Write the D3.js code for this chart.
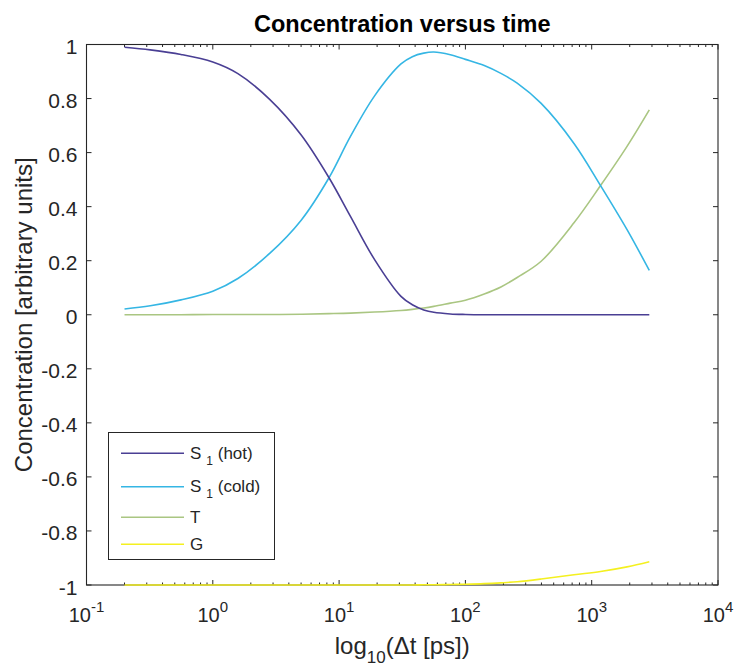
<!DOCTYPE html>
<html>
<head>
<meta charset="utf-8">
<script src="https://cdn.jsdelivr.net/npm/d3@7"></script>
<style>
  body { margin: 0; background: #fff; }
  svg { display: block; font-family: "Liberation Sans", Arial, sans-serif; }
</style>
</head>
<body>
<div id="chart"></div>
<script>
// data (time in ps)
const timePs = [0.2, 0.32, 0.56, 1, 1.58, 2.82, 5.01, 8.32, 12.3, 19.1, 30.9, 38.0, 46.8, 56.2, 75.9, 100, 141, 191, 257, 398, 724, 1175, 1905, 2858];
const s1Hot  = [0.99, 0.98, 0.963, 0.935, 0.892, 0.797, 0.665, 0.507, 0.364, 0.204, 0.068, 0.037, 0.018, 0.009, 0.003, 0.001, 0, 0, 0, 0, 0, 0, 0, 0];
const s1Cold = [0.021, 0.033, 0.055, 0.087, 0.134, 0.227, 0.35, 0.507, 0.66, 0.81, 0.928, 0.955, 0.968, 0.972, 0.962, 0.945, 0.922, 0.893, 0.857, 0.782, 0.634, 0.478, 0.315, 0.164];
const tState = [0, 0, 0, 0.001, 0.001, 0.001, 0.002, 0.004, 0.006, 0.01, 0.016, 0.02, 0.025, 0.031, 0.043, 0.054, 0.077, 0.103, 0.138, 0.198, 0.34, 0.478, 0.623, 0.758];
const gState = [-1, -1, -1, -1, -1, -1, -1, -1, -1, -1, -1, -1, -0.999, -0.999, -0.998, -0.997, -0.995, -0.992, -0.988, -0.978, -0.962, -0.95, -0.933, -0.914];

const series = [
  { name: "S", sub: "1", rest: " (hot)",  values: s1Hot,  color: "#4a3f94" },
  { name: "S", sub: "1", rest: " (cold)", values: s1Cold, color: "#35b6e4" },
  { name: "T", sub: "",  rest: "",        values: tState, color: "#aac682" },
  { name: "G", sub: "",  rest: "",        values: gState, color: "#f4f020" }
];

const xTickExps = [-1, 0, 1, 2, 3, 4];
const yTicks = [-1, -0.8, -0.6, -0.4, -0.2, 0, 0.2, 0.4, 0.6, 0.8, 1];
const yTickLabels = ["-1", "-0.8", "-0.6", "-0.4", "-0.2", "0", "0.2", "0.4", "0.6", "0.8", "1"];

const W = 736, H = 666;
const box = { left: 86.5, right: 718, top: 44.5, bottom: 585 };
const ink = "#262626";

const svg = d3.select("#chart").append("svg")
  .attr("width", W)
  .attr("height", H);

const x = d3.scaleLog().domain([0.1, 10000]).range([box.left, box.right]);
const y = d3.scaleLinear().domain([-1, 1]).range([box.bottom, box.top]);

// axes box
svg.append("rect")
  .attr("x", box.left)
  .attr("y", box.top)
  .attr("width", box.right - box.left)
  .attr("height", box.bottom - box.top)
  .attr("fill", "#fff")
  .attr("stroke", ink)
  .attr("stroke-width", 1.1);

// x ticks, major + minor, bottom & top, pointing inward
const minor = [];
for (let e = -1; e < 4; e++) {
  for (let k = 2; k <= 9; k++) minor.push(k * Math.pow(10, e));
}
const ticks = svg.append("g").attr("stroke", ink).attr("stroke-width", 1);
minor.forEach(v => {
  ticks.append("line").attr("x1", x(v)).attr("x2", x(v)).attr("y1", box.bottom).attr("y2", box.bottom - 2.5);
  ticks.append("line").attr("x1", x(v)).attr("x2", x(v)).attr("y1", box.top).attr("y2", box.top + 2.5);
});
xTickExps.forEach(e => {
  const v = Math.pow(10, e);
  ticks.append("line").attr("x1", x(v)).attr("x2", x(v)).attr("y1", box.bottom).attr("y2", box.bottom - 5);
  ticks.append("line").attr("x1", x(v)).attr("x2", x(v)).attr("y1", box.top).attr("y2", box.top + 5);
});
yTicks.forEach(v => {
  ticks.append("line").attr("x1", box.left).attr("x2", box.left + 5).attr("y1", y(v)).attr("y2", y(v));
  ticks.append("line").attr("x1", box.right).attr("x2", box.right - 5).attr("y1", y(v)).attr("y2", y(v));
});

// y tick labels
svg.append("g").selectAll("text")
  .data(yTicks)
  .join("text")
  .attr("x", box.left - 9)
  .attr("y", d => y(d) + 9.5)
  .attr("text-anchor", "end")
  .attr("fill", ink)
  .style("font-size", "21px")
  .text((d, i) => yTickLabels[i]);

// x tick labels 10^n
const xl = svg.append("g").selectAll("text")
  .data(xTickExps)
  .join("text")
  .attr("x", d => x(Math.pow(10, d)))
  .attr("y", 622)
  .attr("text-anchor", "middle")
  .attr("fill", ink)
  .style("font-size", "20px");
xl.append("tspan").text("10");
xl.append("tspan")
  .attr("dy", -10)
  .style("font-size", "15px")
  .text(d => String(d));

// lines
const line = d3.line()
  .x((d, i) => x(timePs[i]))
  .y(d => y(d))
  .curve(d3.curveCatmullRom.alpha(0.5));

series.slice().reverse().forEach(s => {
  svg.append("path")
    .attr("d", line(s.values))
    .attr("fill", "none")
    .attr("stroke", s.color)
    .attr("stroke-width", 1.6);
});

// title
svg.append("text")
  .attr("x", (box.left + box.right) / 2)
  .attr("y", 32)
  .attr("text-anchor", "middle")
  .attr("fill", "#000")
  .style("font-size", "23.5px")
  .style("font-weight", "bold")
  .text("Concentration versus time");

// x label
const xLab = svg.append("text")
  .attr("x", (box.left + box.right) / 2)
  .attr("y", 654)
  .attr("text-anchor", "middle")
  .attr("fill", ink)
  .style("font-size", "24px");
xLab.append("tspan").text("log");
xLab.append("tspan").attr("dy", 9).style("font-size", "17px").text("10");
xLab.append("tspan").attr("dy", -9).text("(\u0394t [ps])");

// y label
svg.append("text")
  .attr("transform", `translate(32,${(box.top + box.bottom) / 2}) rotate(-90)`)
  .attr("text-anchor", "middle")
  .attr("fill", ink)
  .style("font-size", "24px")
  .text("Concentration [arbitrary units]");

// legend
const legend = svg.append("g").attr("transform", "translate(108,432)");
legend.append("rect")
  .attr("x", 0.5)
  .attr("y", 0.5)
  .attr("width", 166)
  .attr("height", 127)
  .attr("fill", "#fff")
  .attr("stroke", ink)
  .attr("stroke-width", 1);

const rowY = [21.3, 54.7, 85.3, 112.3];
series.forEach((s, i) => {
  legend.append("line")
    .attr("x1", 13)
    .attr("x2", 76)
    .attr("y1", rowY[i])
    .attr("y2", rowY[i])
    .attr("stroke", s.color)
    .attr("stroke-width", 1.6);
  const t = legend.append("text")
    .attr("x", 82)
    .attr("y", rowY[i] + 5.5)
    .attr("fill", ink)
    .style("font-size", "17px");
  t.append("tspan").text(s.name);
  if (s.sub) {
    t.append("tspan").attr("dx", 5).attr("dy", 6).style("font-size", "12px").text(s.sub);
    t.append("tspan").attr("dy", -6).text(s.rest);
  }
});
</script>
</body>
</html>
